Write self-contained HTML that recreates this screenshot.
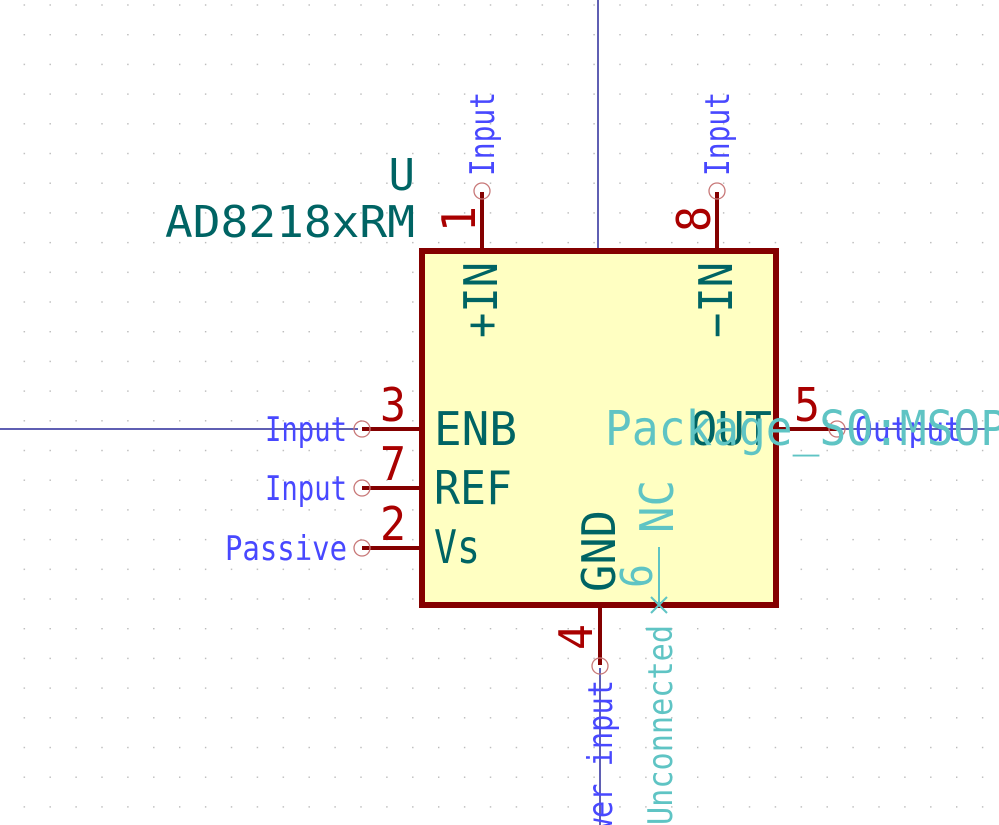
<!DOCTYPE html>
<html><head><meta charset="utf-8"><style>
html,body{margin:0;padding:0;background:#fff;overflow:hidden;width:999px;height:825px;}
svg{display:block;}
text{font-family:"DejaVu Sans Mono","Liberation Mono",monospace;}
</style></head><body>
<svg width="999" height="825" viewBox="0 0 999 825" xmlns="http://www.w3.org/2000/svg">
<defs>
<pattern id="g" x="-2.3" y="4.3" width="25.9" height="29.7" patternUnits="userSpaceOnUse">
<rect x="0" y="0" width="1.4" height="1.4" fill="#b8b8b8"/>
</pattern>
</defs>
<rect width="999" height="825" fill="url(#g)"/>
<g stroke="#2a2a9a" stroke-width="1.5">
<line x1="598" y1="0" x2="598" y2="250"/>
<line x1="0" y1="429" x2="358" y2="429"/>
<line x1="840" y1="429" x2="999" y2="429"/>
<line x1="600" y1="668" x2="600" y2="825"/>
</g>
<rect x="422" y="251" width="354" height="354" fill="#ffffc2" stroke="#840000" stroke-width="6"/>
<g stroke="#840000" stroke-width="4">
<line x1="482" y1="192" x2="482" y2="250"/>
<line x1="717" y1="192" x2="717" y2="250"/>
<line x1="362" y1="429" x2="421" y2="429"/>
<line x1="362" y1="488" x2="421" y2="488"/>
<line x1="362" y1="548" x2="421" y2="548"/>
<line x1="777" y1="429" x2="837" y2="429"/>
<line x1="600" y1="606" x2="600" y2="665"/>
</g>
<g fill="none" stroke="#c87878" stroke-width="1.3">
<circle cx="482" cy="191" r="8"/>
<circle cx="717" cy="191" r="8"/>
<circle cx="362" cy="429" r="8"/>
<circle cx="362" cy="488" r="8"/>
<circle cx="362" cy="548" r="8"/>
<circle cx="837" cy="429" r="8"/>
<circle cx="600" cy="666" r="8"/>
</g>
<line x1="659" y1="547" x2="659" y2="605" stroke="#5fc4c4" stroke-width="2"/>
<g stroke="#5fc4c4" stroke-width="2"><line x1="651" y1="597" x2="667" y2="613"/><line x1="667" y1="597" x2="651" y2="613"/></g>
<text x="415" y="190" font-size="44" fill="#006464" text-anchor="end">U</text>
<text x="165" y="237" font-size="44" fill="#006464" textLength="250" lengthAdjust="spacingAndGlyphs">AD8218xRM</text>
<g fill="#006464" font-size="46">
<text x="434" y="445" textLength="83" lengthAdjust="spacingAndGlyphs">ENB</text>
<text x="434" y="504" textLength="78" lengthAdjust="spacingAndGlyphs">REF</text>
<text x="434" y="563" textLength="46" lengthAdjust="spacingAndGlyphs">Vs</text>
<text x="690" y="445" textLength="82" lengthAdjust="spacingAndGlyphs">OUT</text>
<text transform="translate(497,338) rotate(-90)" textLength="76" lengthAdjust="spacingAndGlyphs">+IN</text>
<text transform="translate(732,338) rotate(-90)" textLength="76" lengthAdjust="spacingAndGlyphs">−IN</text>
<text transform="translate(615,592) rotate(-90)" textLength="82" lengthAdjust="spacingAndGlyphs">GND</text>
</g>
<g fill="#a90000" font-size="46">
<text x="380" y="421" textLength="26" lengthAdjust="spacingAndGlyphs">3</text>
<text x="380" y="480" textLength="26" lengthAdjust="spacingAndGlyphs">7</text>
<text x="380" y="540" textLength="26" lengthAdjust="spacingAndGlyphs">2</text>
<text x="794" y="421" textLength="26" lengthAdjust="spacingAndGlyphs">5</text>
<text transform="translate(475,232) rotate(-90)" textLength="26" lengthAdjust="spacingAndGlyphs">1</text>
<text transform="translate(710,232) rotate(-90)" textLength="26" lengthAdjust="spacingAndGlyphs">8</text>
<text transform="translate(592,650) rotate(-90)" textLength="26" lengthAdjust="spacingAndGlyphs">4</text>
</g>
<g fill="#4848ff" font-size="34">
<text x="347" y="441" text-anchor="end" textLength="82" lengthAdjust="spacingAndGlyphs">Input</text>
<text x="347" y="500" text-anchor="end" textLength="82" lengthAdjust="spacingAndGlyphs">Input</text>
<text x="347" y="560" text-anchor="end" textLength="122" lengthAdjust="spacingAndGlyphs">Passive</text>
<text x="855" y="441" textLength="107" lengthAdjust="spacingAndGlyphs">Output</text>
<text transform="translate(494,176) rotate(-90)" textLength="84" lengthAdjust="spacingAndGlyphs">Input</text>
<text transform="translate(729,176) rotate(-90)" textLength="84" lengthAdjust="spacingAndGlyphs">Input</text>
<text transform="translate(612,680) rotate(-90)" text-anchor="end" textLength="190" lengthAdjust="spacingAndGlyphs">Power input</text>
</g>
<g fill="#5fc4c4">
<text x="605" y="445" font-size="48" textLength="402" lengthAdjust="spacingAndGlyphs">Package_SO:MSOP</text>
<text transform="translate(652,588) rotate(-90)" font-size="44" textLength="24" lengthAdjust="spacingAndGlyphs">6</text>
<text transform="translate(673,533) rotate(-90)" font-size="46" textLength="53" lengthAdjust="spacingAndGlyphs">NC</text>
<text transform="translate(672,625) rotate(-90)" font-size="34" text-anchor="end" textLength="200" lengthAdjust="spacingAndGlyphs">Unconnected</text>
</g>
</svg>
</body></html>
